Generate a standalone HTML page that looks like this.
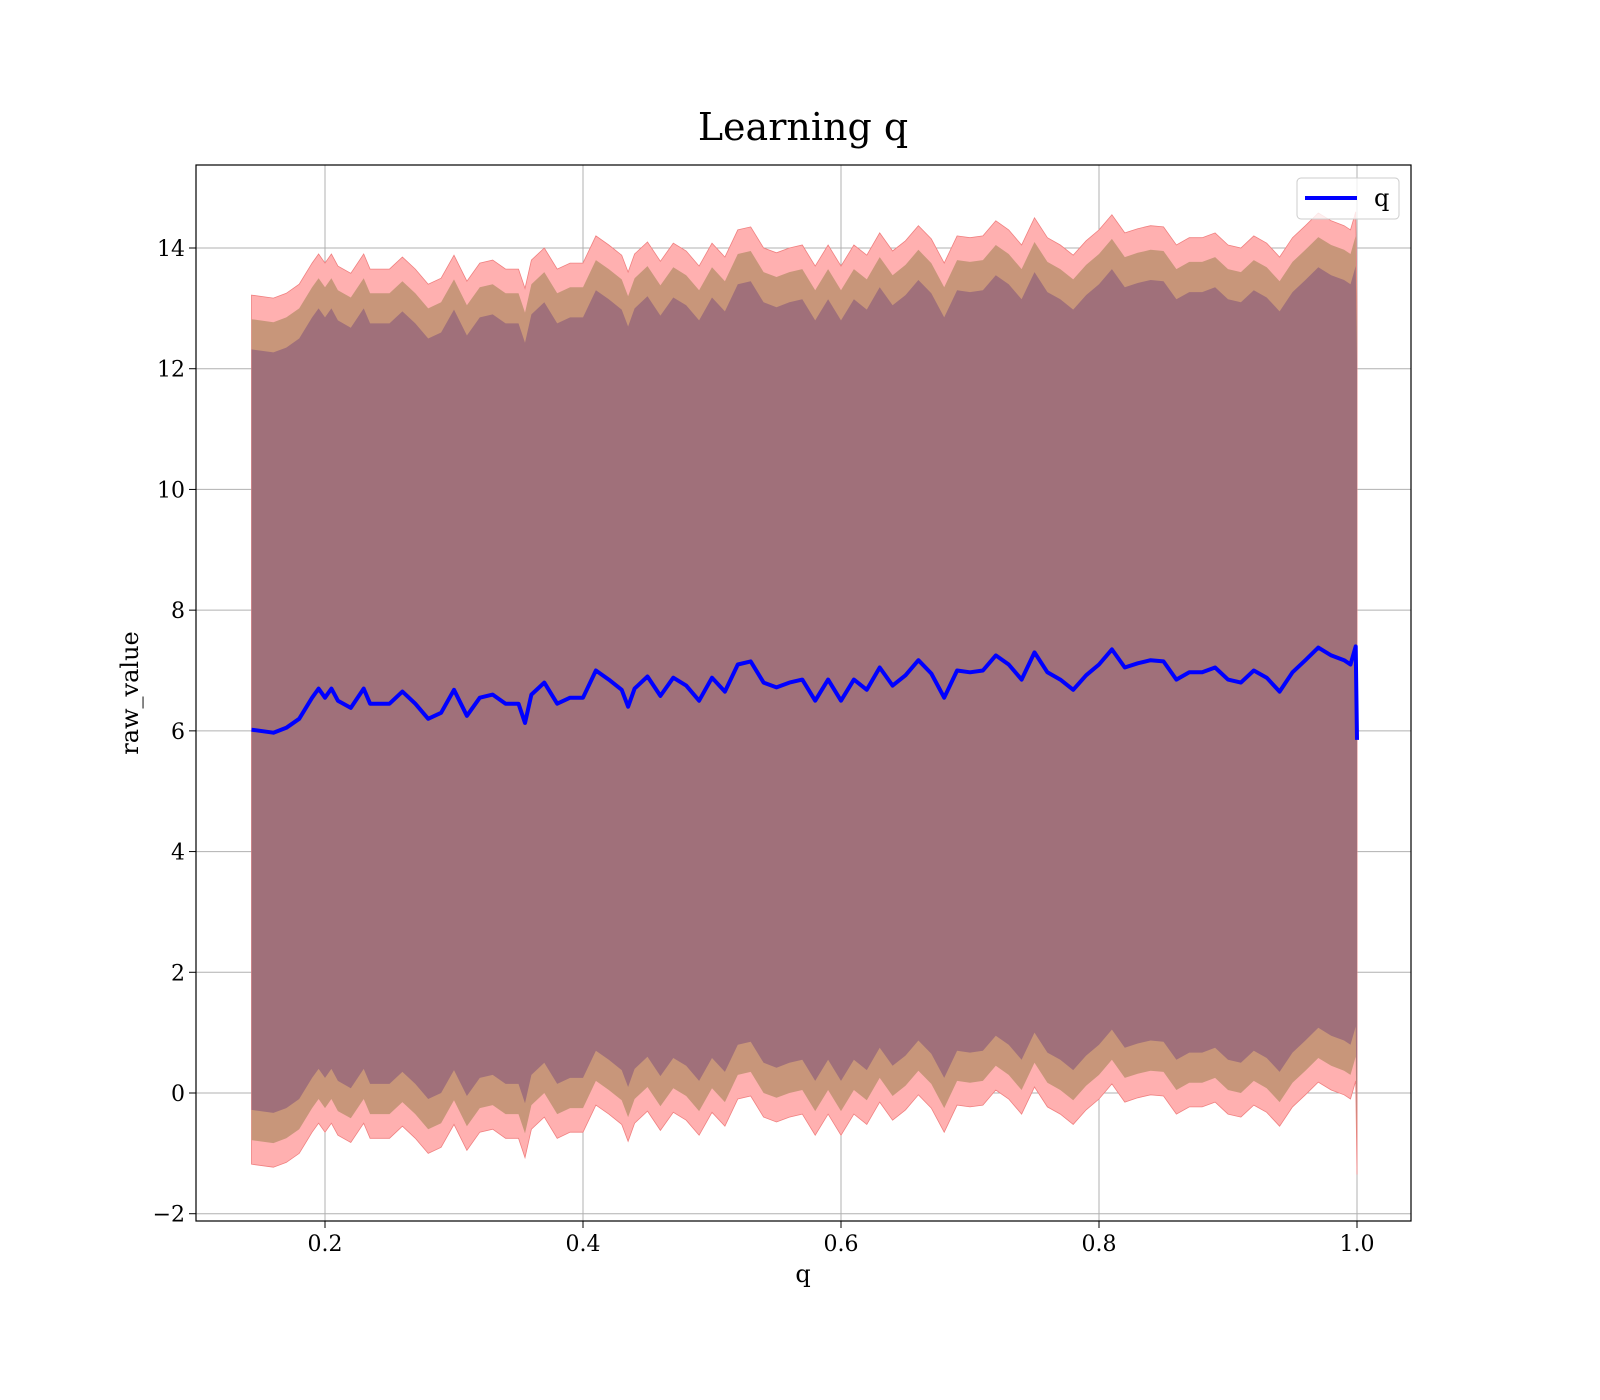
<!DOCTYPE html>
<html><head><meta charset="utf-8">
<style>
body{margin:0;background:#fff;}
svg{display:block;font-family:"DejaVu Serif","Liberation Serif",serif;}
</style></head>
<body>
<svg id="chart" width="1600" height="1400" viewBox="0 0 1600 1400" xmlns="http://www.w3.org/2000/svg">
<rect width="1600" height="1400" fill="#fff"/>
<text x="803" y="140" font-size="38" text-anchor="middle">Learning q</text>
<g id="grid"></g>
<g id="bands"></g>
<g id="lines"></g>
<rect x="196" y="165" width="1215" height="1056" fill="none" stroke="#000" stroke-width="1.2"/>
<g id="ticks"></g>
<text x="803" y="1282" font-size="24" text-anchor="middle">q</text>
<text transform="translate(138,693) rotate(-90)" font-size="24" text-anchor="middle">raw_value</text>
<g>
<rect x="1297" y="178" width="102" height="41" rx="4" fill="#fff" fill-opacity="0.8" stroke="#ccc"/>
<line x1="1305" y1="198" x2="1357" y2="198" stroke="#0000ff" stroke-width="4"/>
<text x="1374" y="206" font-size="24">q</text>
</g>
</svg>
<script>
const qValues=[0.143,0.16,0.17,0.18,0.19,0.195,0.2,0.205,0.21,0.22,0.23,0.235,0.25,0.26,0.27,0.28,0.29,0.30,0.31,0.32,0.33,0.34,0.35,0.355,0.36,0.37,0.38,0.39,0.40,0.41,0.42,0.43,0.435,0.44,0.45,0.46,0.47,0.48,0.49,0.50,0.51,0.52,0.53,0.54,0.55,0.56,0.57,0.58,0.59,0.60,0.61,0.62,0.63,0.64,0.65,0.66,0.67,0.68,0.69,0.70,0.71,0.72,0.73,0.74,0.75,0.76,0.77,0.78,0.79,0.80,0.81,0.82,0.83,0.84,0.85,0.86,0.87,0.88,0.89,0.90,0.91,0.92,0.93,0.94,0.95,0.96,0.97,0.98,0.99,0.995,0.999,1.0];
const meanValues=[6.02,5.97,6.05,6.2,6.55,6.7,6.55,6.7,6.5,6.38,6.7,6.45,6.45,6.65,6.45,6.2,6.3,6.68,6.25,6.55,6.6,6.45,6.45,6.13,6.6,6.8,6.45,6.55,6.55,7.0,6.85,6.68,6.4,6.7,6.9,6.58,6.88,6.75,6.5,6.88,6.65,7.1,7.15,6.8,6.72,6.8,6.85,6.5,6.85,6.5,6.85,6.68,7.05,6.75,6.92,7.17,6.95,6.55,7.0,6.97,7.0,7.25,7.1,6.85,7.3,6.97,6.85,6.68,6.92,7.1,7.35,7.05,7.12,7.17,7.15,6.85,6.97,6.97,7.05,6.85,6.8,7.0,6.88,6.65,6.97,7.17,7.38,7.25,7.17,7.1,7.4,5.85];
const bandWidths=[7.2,6.8,6.3];
const xTicks=[0.2,0.4,0.6,0.8,1.0];
const yTicks=[-2,0,2,4,6,8,10,12,14];

const NS="http://www.w3.org/2000/svg";
function X(v){return 67+1290*v;}
function Y(v){return 1093-60.357*v;}
function mk(tag,attrs,parent){const e=document.createElementNS(NS,tag);for(const k in attrs)e.setAttribute(k,attrs[k]);parent.appendChild(e);return e;}

const grid=document.getElementById('grid'),ticks=document.getElementById('ticks');
xTicks.forEach(t=>{
  const g=mk('line',{x1:X(t),x2:X(t),y1:165,y2:1221,stroke:'#b0b0b0','stroke-width':1},grid);
  
  
  mk('line',{x1:X(t),x2:X(t),y1:1221,y2:1228,stroke:'#000'},ticks);
  const tx=mk('text',{x:X(t),y:1251,'font-size':22,'text-anchor':'middle'},ticks);
  tx.textContent=t.toFixed(1);
  
  
});
yTicks.forEach(t=>{
  const g=mk('line',{x1:196,x2:1411,y1:Y(t),y2:Y(t),stroke:'#b0b0b0','stroke-width':1},grid);
  
  
  mk('line',{x1:189,x2:196,y1:Y(t),y2:Y(t),stroke:'#000'},ticks);
  const tx=mk('text',{x:185,y:Y(t)+8,'font-size':22,'text-anchor':'end'},ticks);
  tx.textContent=t<0?'\u2212'+Math.abs(t):String(t);
  
  
});

const bandColors=['#ffb0b0','#c8967a','#a0707a'];
const bands=document.getElementById('bands');
bandWidths.forEach((w,i)=>{
  let d='';
  qValues.forEach((q,j)=>{d+=(j?'L':'M')+X(q).toFixed(1)+','+Y(meanValues[j]+w).toFixed(1);});
  for(let j=qValues.length-1;j>=0;j--)d+='L'+X(qValues[j]).toFixed(1)+','+Y(meanValues[j]-w).toFixed(1);
  const p=mk('path',{d:d+'Z',fill:bandColors[i],stroke:i==0?'#f08080':'none','stroke-width':0.8},bands);
  
  
});
let d='';
qValues.forEach((q,j)=>{d+=(j?'L':'M')+X(q).toFixed(1)+','+Y(meanValues[j]).toFixed(1);});
const ln=mk('path',{d:d,fill:'none',stroke:'#0000ff','stroke-width':4,'stroke-linejoin':'round'},document.getElementById('lines'));


</script>
</body></html>
